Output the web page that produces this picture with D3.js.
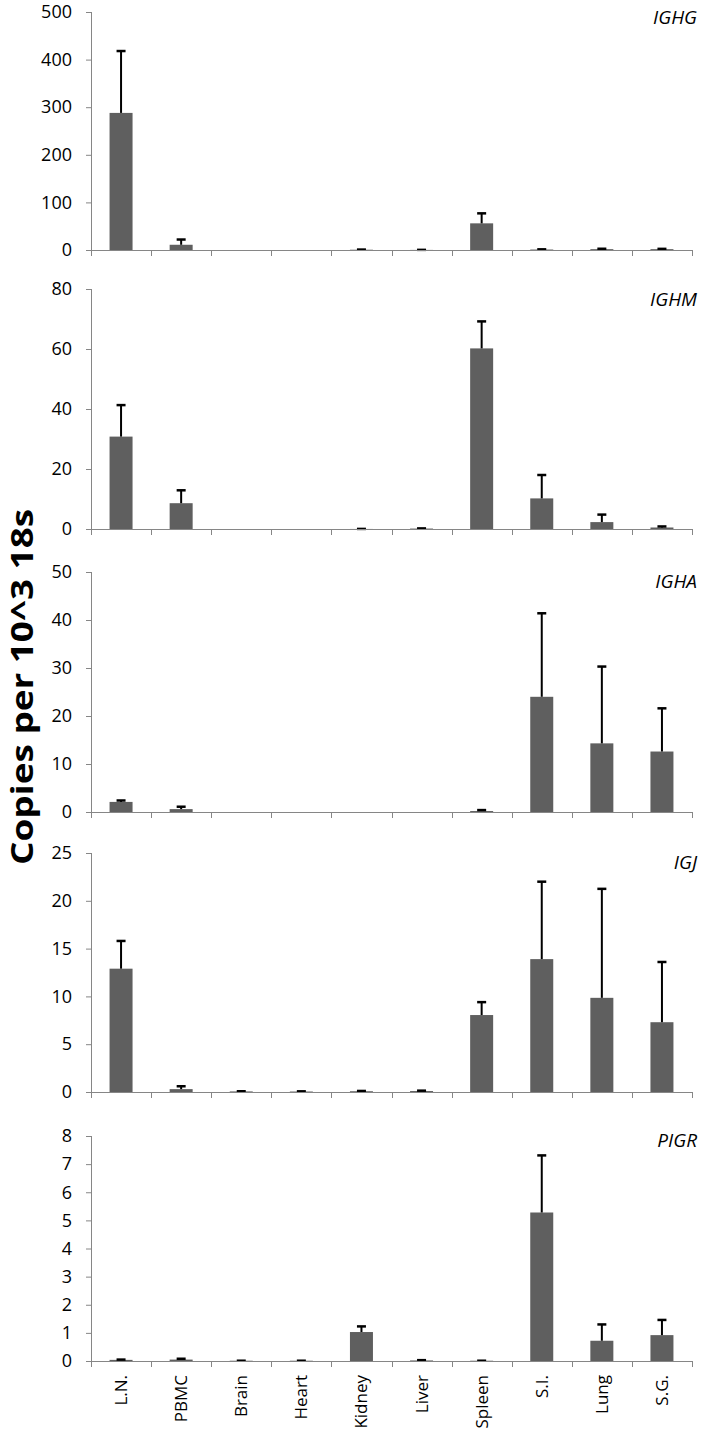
<!DOCTYPE html>
<html><head><meta charset="utf-8">
<script src="https://cdn.jsdelivr.net/npm/d3@7"></script>
<style>
html,body{margin:0;padding:0;background:#fff;}
svg{display:block;}
</style></head>
<body>
<svg id="chart" width="701" height="1435"></svg>
<script>
const categories = ["L.N.","PBMC","Brain","Heart","Kidney","Liver","Spleen","S.I.","Lung","S.G."];
const genes = ["IGHG","IGHM","IGHA","IGJ","PIGR"];
const yMax = [500, 80, 50, 25, 8];
const yTicks = [
  [0,100,200,300,400,500],
  [0,20,40,60,80],
  [0,10,20,30,40,50],
  [0,5,10,15,20,25],
  [0,1,2,3,4,5,6,7,8]
];
const ighgMean = [288, 11, 0, 0, 0.6, 0.2, 56, 1.0, 1.8, 1.8];
const ighgErr  = [130, 11, 0, 0, 0.3, 0.1, 21, 0.4, 0.8, 0.6];
const ighmMean = [30.8, 8.6, 0, 0, 0.02, 0.15, 60.2, 10.2, 2.3, 0.5];
const ighmErr  = [10.5, 4.3, 0, 0, 0.01, 0.05, 9.0, 7.8, 2.5, 0.35];
const ighaMean = [2.1, 0.6, 0, 0, 0, 0, 0.2, 24.0, 14.3, 12.6];
const ighaErr  = [0.3, 0.5, 0, 0, 0, 0, 0.2, 17.4, 16.0, 9.0];
const igjMean  = [12.9, 0.3, 0.06, 0.05, 0.08, 0.1, 8.05, 13.9, 9.85, 7.3];
const igjErr   = [2.9, 0.3, 0.02, 0.02, 0.03, 0.04, 1.35, 8.1, 11.4, 6.3];
const pigrMean = [0.04, 0.05, 0.01, 0.01, 1.03, 0.02, 0.01, 5.28, 0.72, 0.92];
const pigrErr  = [0.01, 0.03, 0, 0, 0.2, 0.01, 0, 2.03, 0.58, 0.54];
const means = [ighgMean, ighmMean, ighaMean, igjMean, pigrMean];
const errs  = [ighgErr, ighmErr, ighaErr, igjErr, pigrErr];
const yTitle = "Copies per 10^3 18s";

// layout
const panelTop = [12, 289, 572, 853, 1136];
const panelBottom = [250, 529, 812, 1092, 1361];
const labelDy = [12, 17, 16, 16, 11];
const xLeft = 91, xRight = 692;
const axisColor = "#868686";
const barColor = "#5f5f5f";
const fontFam = "'Open Sans', 'Noto Sans', sans-serif";

const svg = d3.select("#chart");
const x = d3.scaleBand().domain(categories).range([xLeft, xRight]).paddingInner(0).paddingOuter(0);
const barW = 23;
const cx = c => x(c) + x.bandwidth() / 2;

genes.forEach((g, i) => {
  const y = d3.scaleLinear().domain([0, yMax[i]]).range([panelBottom[i], panelTop[i]]);
  const gp = svg.append("g");
  const rows = categories.map((c, j) => ({ c, m: means[i][j], e: errs[i][j] }));

  // y axis
  const ya = gp.append("g").attr("transform", `translate(${xLeft},0)`)
    .call(d3.axisLeft(y).tickValues(yTicks[i]).tickSizeInner(5).tickSizeOuter(0).tickPadding(14).tickFormat(d3.format("d")));
  ya.select(".domain").attr("stroke", axisColor).attr("d", `M0.5,${panelTop[i]}V${panelBottom[i]}`);
  ya.selectAll(".tick line").attr("stroke", axisColor);
  ya.selectAll(".tick text").attr("font-family", fontFam).attr("font-size", 18).attr("fill", "#000");

  // bars
  gp.selectAll("rect.bar").data(rows).enter().append("rect")
    .attr("x", d => cx(d.c) - barW/2)
    .attr("width", barW)
    .attr("y", d => y(d.m))
    .attr("height", d => y(0) - y(d.m))
    .attr("fill", barColor);

  // error bars (upper only)
  const eb = gp.selectAll("g.err").data(rows.filter(d => d.m + d.e > 0)).enter().append("g");
  eb.append("line")
    .attr("x1", d => cx(d.c)).attr("x2", d => cx(d.c))
    .attr("y1", d => y(d.m)).attr("y2", d => y(d.m + d.e))
    .attr("stroke", "#000").attr("stroke-width", 2);
  eb.append("line")
    .attr("x1", d => cx(d.c) - 4.5).attr("x2", d => cx(d.c) + 4.5)
    .attr("y1", d => y(d.m + d.e)).attr("y2", d => y(d.m + d.e))
    .attr("stroke", "#000").attr("stroke-width", 2.5);

  // x axis
  const xa = gp.append("g").attr("transform", `translate(0,${panelBottom[i]})`)
    .call(d3.axisBottom(x).tickSizeInner(0).tickSizeOuter(0).tickFormat(""));
  xa.select(".domain").attr("stroke", axisColor).attr("d", `M${xLeft},0.5H${xRight}`);
  xa.selectAll(".tick").remove();
  const bounds = categories.map(c => x(c)).concat([xRight]);
  xa.selectAll("line.sep").data(bounds).enter().append("line")
    .attr("x1", d => Math.round(d) + 0.5).attr("x2", d => Math.round(d) + 0.5)
    .attr("y1", 0).attr("y2", 6).attr("stroke", axisColor);

  if (i === genes.length - 1) {
    xa.selectAll("text.cat").data(categories).enter().append("text")
      .attr("transform", d => `translate(${cx(d) + 6},14) rotate(-90)`)
      .attr("text-anchor", "end")
      .attr("font-family", fontFam).attr("font-size", 17).attr("fill", "#000")
      .text(d => d);
  }

  // gene label
  gp.append("text").attr("x", 697).attr("y", panelTop[i] + labelDy[i])
    .attr("text-anchor", "end").attr("font-family", fontFam).attr("font-style", "italic")
    .attr("font-size", 19).attr("fill", "#000").text(g);
});

svg.append("text")
  .attr("transform", "translate(33,687) rotate(-90)")
  .attr("text-anchor", "middle")
  .attr("font-family", fontFam).attr("font-weight", "bold").attr("font-size", 30).attr("fill", "#000")
  .attr("textLength", 356).attr("lengthAdjust", "spacingAndGlyphs")
  .text(yTitle);
</script>
</body></html>
